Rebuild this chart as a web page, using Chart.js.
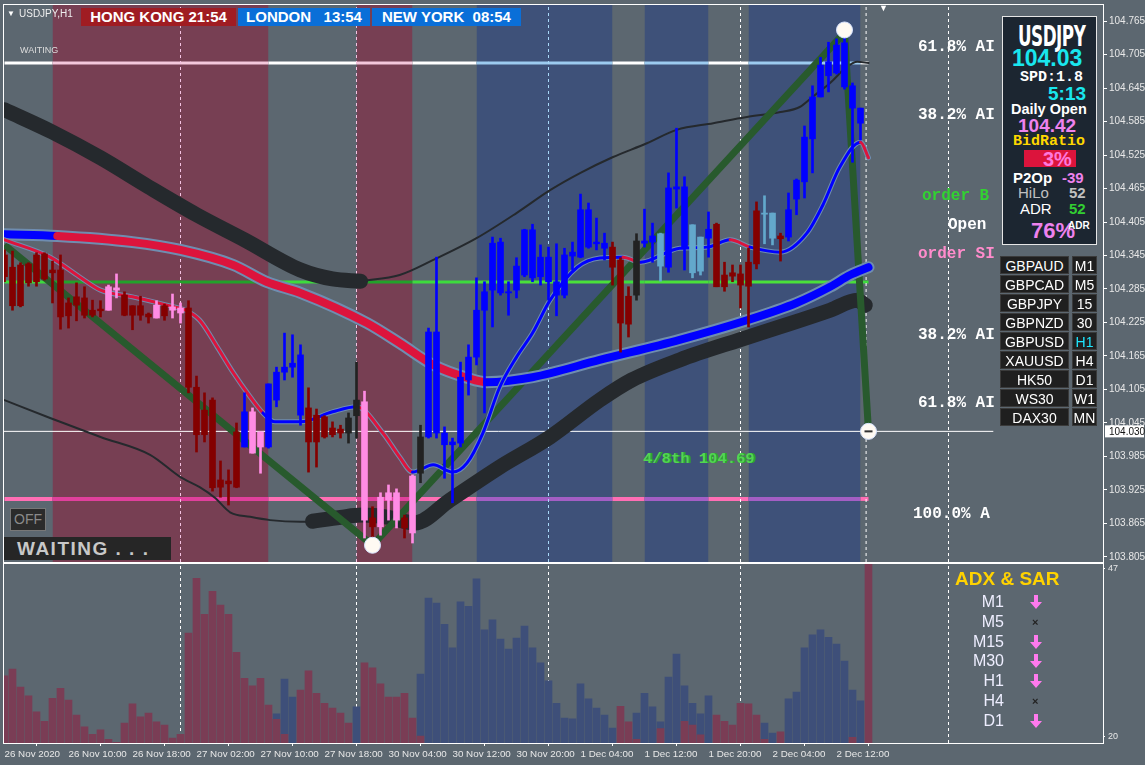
<!DOCTYPE html>
<html>
<head>
<meta charset="utf-8">
<script src="https://cdn.jsdelivr.net/npm/chart.js@4.4.1/dist/chart.umd.min.js"></script>
<style>
body{margin:0;background:#5c6770;}
#wrap{position:relative;width:1145px;height:765px;overflow:hidden;background:#5c6770;font-family:'Liberation Sans',Arial,sans-serif;}
#main{position:absolute;left:0;top:0;}
#sub{position:absolute;left:0;top:563px;}
.t{position:absolute;white-space:nowrap;line-height:1;transform:translateY(-50%);}
.mono{font-family:'Liberation Mono','DejaVu Sans Mono',monospace;font-weight:bold;}
.b{font-weight:bold;}
.box{position:absolute;height:18px;line-height:18px;color:#fff;font-weight:bold;font-size:15px;text-align:center;}
.cell{position:absolute;height:18px;line-height:18px;background:#1f1f1f;border:1px solid #3a3a3a;box-sizing:border-box;color:#fff;font-size:14px;text-align:center;}
</style>
</head>
<body>
<div id="wrap">
  <canvas id="main" width="1145" height="563"></canvas>
  <canvas id="sub" width="1145" height="202"></canvas>

  <div class="t" style="left:7px;top:14px;font-size:8px;color:#fff">▼</div>
  <div class="t" style="left:19px;top:14px;font-size:10px;color:#eee">USDJPY,H1</div>
  <div class="box" style="left:81px;top:8px;width:155px;background:#a01c22">HONG KONG&nbsp;21:54</div>
  <div class="box" style="left:238px;top:8px;width:132px;background:#0a6fd8">LONDON&nbsp;&nbsp;&nbsp;13:54</div>
  <div class="box" style="left:372px;top:8px;width:149px;background:#0a6fd8">NEW YORK&nbsp;&nbsp;08:54</div>
  <div class="t" style="left:20px;top:50px;font-size:9px;color:#ddd">WAITING</div>
  <div class="t" style="left:879px;top:8px;font-size:9px;color:#fff">▼</div>

  <div class="t mono" style="left:918px;top:47px;font-size:16px;color:#fff">61.8% AI</div>
  <div class="t mono" style="left:918px;top:115px;font-size:16px;color:#fff">38.2% AI</div>
  <div class="t mono" style="left:922px;top:196px;font-size:16px;color:#32d232">order B</div>
  <div class="t mono" style="left:948px;top:225px;font-size:16px;color:#fff">Open</div>
  <div class="t mono" style="left:918px;top:254px;font-size:16px;color:#ff8ccc">order SI</div>
  <div class="t mono" style="left:918px;top:335px;font-size:16px;color:#fff">38.2% AI</div>
  <div class="t mono" style="left:918px;top:403px;font-size:16px;color:#fff">61.8% AI</div>
  <div class="t mono" style="left:913px;top:514px;font-size:16px;color:#fff">100.0% A</div>
  <div class="t mono" style="left:643px;top:460px;font-size:15.5px;color:#52d652;text-shadow:2px 0 0 #2ea82e">4/8th 104.69</div>

  <div style="position:absolute;left:10px;top:508px;width:36px;height:23px;background:#2b2b2b;border:1px solid #777;box-sizing:border-box;color:#8a8a8a;font-size:14px;line-height:21px;text-align:center">OFF</div>
  <div style="position:absolute;left:4px;top:537px;width:167px;height:23px;background:#262626;color:#c8c8c8;font-weight:bold;font-size:19px;line-height:23px;letter-spacing:1.5px;padding-left:13px;box-sizing:border-box">WAITING . . .</div>

  <div style="position:absolute;left:1002px;top:16px;width:95px;height:229px;background:#1c2631;border:1px solid #e6e6e6;box-sizing:border-box"></div>
  <div class="t b" style="left:1018px;top:37px;font-size:19px;color:#fff;font-family:'DejaVu Sans Condensed','Liberation Sans',sans-serif;transform:translateY(-50%) scale(0.98,1.45);transform-origin:left center;letter-spacing:-0.5px">USDJPY</div>
  <div class="t b" style="left:1012px;top:58px;font-size:23px;color:#19e6ee">104.03</div>
  <div class="t mono" style="left:1020px;top:77px;font-size:15px;color:#fff">SPD:1.8</div>
  <div class="t b" style="left:1048px;top:93px;font-size:19px;color:#19e6ee">5:13</div>
  <div class="t b" style="left:1011px;top:109px;font-size:14.5px;color:#fff">Daily Open</div>
  <div class="t b" style="left:1018px;top:125px;font-size:19px;color:#ee82ee">104.42</div>
  <div class="t mono" style="left:1013px;top:141px;font-size:15px;color:#ffd700">BidRatio</div>
  <div style="position:absolute;left:1024px;top:150px;width:52px;height:17px;background:#dc143c"></div>
  <div class="t b" style="left:1043px;top:159px;font-size:20px;color:#ff77dd">3%</div>
  <div class="t b" style="left:1013px;top:177px;font-size:15px;color:#fff">P2Op</div>
  <div class="t b" style="left:1062px;top:177px;font-size:15px;color:#ee82ee">-39</div>
  <div class="t" style="left:1018px;top:192px;font-size:15px;color:#c0c0c0">HiLo</div>
  <div class="t b" style="left:1069px;top:192px;font-size:15px;color:#c0c0c0">52</div>
  <div class="t" style="left:1020px;top:208px;font-size:15px;color:#fff">ADR</div>
  <div class="t b" style="left:1069px;top:208px;font-size:15px;color:#32cd32">52</div>
  <div class="t b" style="left:1031px;top:231px;font-size:22px;color:#ee82ee">76%</div>
  <div class="t b" style="left:1068px;top:226px;font-size:10px;color:#fff">ADR</div>

  <div class="t b" style="left:955px;top:578px;font-size:19px;color:#ffd200">ADX &amp; SAR</div>
  <div id="adx"></div>
  <div id="syms"></div>
</div>

<script>
// price axis ticks and time labels
const priceTicks = [103.805, 103.865, 103.925, 103.985, 104.045, 104.105, 104.165, 104.225, 104.285,
  104.345, 104.405, 104.465, 104.525, 104.585, 104.645, 104.705, 104.765];
const timeTickIdx = [0, 8, 16, 24, 32, 40, 48, 56, 64, 72, 80, 88, 96, 104];
const timeLabels = ['26 Nov 2020', '26 Nov 10:00', '26 Nov 18:00', '27 Nov 02:00', '27 Nov 10:00',
  '27 Nov 18:00', '30 Nov 04:00', '30 Nov 12:00', '30 Nov 20:00', '1 Dec 04:00', '1 Dec 12:00',
  '1 Dec 20:00', '2 Dec 04:00', '2 Dec 12:00'];

// H1 candles (bar index 0..108)
const openP = [
  104.346, 104.324, 104.328, 104.330, 104.346, 104.348, 104.319, 104.319, 104.260, 104.271,
  104.269, 104.247, 104.249, 104.247, 104.283, 104.274, 104.255, 104.255, 104.240, 104.233,
  104.255, 104.247, 104.242, 104.251, 104.109, 104.068, 104.086, 103.943, 103.941, 104.029,
  104.002, 103.991, 104.002, 104.002, 104.086, 104.136, 104.145, 104.059, 104.072, 104.059,
  104.056, 104.036, 104.034, 104.027, 104.058, 103.871, 103.875, 103.859, 103.907, 103.871,
  103.875, 103.848, 103.955, 104.020, 104.027, 104.006, 104.006, 104.009, 104.122, 104.163,
  104.247, 104.283, 104.278, 104.278, 104.283, 104.310, 104.305, 104.307, 104.298, 104.274,
  104.274, 104.344, 104.342, 104.360, 104.366, 104.358, 104.360, 104.337, 104.272, 104.274,
  104.367, 104.369, 104.384, 104.324, 104.464, 104.358, 104.400, 104.378, 104.376, 104.401,
  104.310, 104.314, 104.312, 104.333, 104.425, 104.421, 104.421, 104.380, 104.378, 104.446,
  104.477, 104.554, 104.629, 104.667, 104.672, 104.647, 104.649, 104.609, 104.035];
const highP = [
  104.355, 104.353, 104.332, 104.332, 104.350, 104.350, 104.335, 104.346, 104.269, 104.296,
  104.289, 104.265, 104.264, 104.292, 104.312, 104.280, 104.255, 104.272, 104.242, 104.264,
  104.258, 104.276, 104.260, 104.264, 104.129, 104.099, 104.090, 103.977, 103.961, 104.045,
  104.099, 104.072, 104.029, 104.115, 104.145, 104.206, 104.203, 104.185, 104.108, 104.070,
  104.058, 104.047, 104.041, 104.063, 104.154, 104.102, 103.895, 103.920, 103.934, 103.927,
  103.880, 103.952, 104.041, 104.215, 104.342, 104.038, 104.018, 104.154, 104.185, 104.305,
  104.298, 104.378, 104.376, 104.298, 104.341, 104.392, 104.401, 104.364, 104.360, 104.366,
  104.358, 104.369, 104.455, 104.439, 104.412, 104.385, 104.369, 104.341, 104.289, 104.384,
  104.428, 104.403, 104.385, 104.493, 104.573, 104.486, 104.400, 104.378, 104.423, 104.403,
  104.333, 104.328, 104.328, 104.358, 104.441, 104.452, 104.421, 104.385, 104.457, 104.482,
  104.577, 104.649, 104.700, 104.727, 104.733, 104.744, 104.654, 104.609, 104.040];
const lowP = [
  104.298, 104.247, 104.253, 104.290, 104.290, 104.301, 104.260, 104.213, 104.215, 104.228,
  104.233, 104.235, 104.235, 104.247, 104.269, 104.237, 104.212, 104.229, 104.224, 104.233,
  104.229, 104.233, 104.224, 104.099, 103.993, 104.011, 103.923, 103.912, 103.898, 103.929,
  104.002, 103.991, 103.955, 104.000, 104.074, 104.122, 104.127, 104.041, 103.957, 103.966,
  104.018, 104.020, 104.018, 104.009, 104.018, 103.839, 103.823, 103.844, 103.871, 103.857,
  103.839, 103.830, 103.938, 104.018, 104.018, 103.946, 103.902, 104.002, 104.095, 104.149,
  104.063, 104.217, 104.274, 104.238, 104.269, 104.307, 104.298, 104.292, 104.265, 104.237,
  104.269, 104.319, 104.341, 104.358, 104.355, 104.337, 104.292, 104.172, 104.199, 104.265,
  104.360, 104.333, 104.299, 104.315, 104.430, 104.319, 104.305, 104.310, 104.342, 104.289,
  104.281, 104.298, 104.251, 104.217, 104.321, 104.366, 104.364, 104.335, 104.371, 104.418,
  104.448, 104.493, 104.629, 104.638, 104.670, 104.643, 104.512, 104.552, 104.025];
const closeP = [
  104.307, 104.255, 104.255, 104.296, 104.298, 104.303, 104.314, 104.235, 104.237, 104.256,
  104.238, 104.238, 104.246, 104.289, 104.287, 104.238, 104.238, 104.238, 104.235, 104.256,
  104.237, 104.253, 104.251, 104.109, 104.024, 104.024, 103.929, 103.930, 103.936, 103.930,
  104.065, 104.065, 104.029, 104.115, 104.136, 104.145, 104.152, 104.167, 104.011, 104.011,
  104.020, 104.024, 104.027, 104.054, 104.086, 104.083, 103.859, 103.912, 103.920, 103.920,
  103.857, 103.950, 104.020, 104.208, 104.208, 104.027, 104.011, 104.127, 104.163, 104.247,
  104.280, 104.367, 104.369, 104.280, 104.326, 104.391, 104.391, 104.342, 104.342, 104.298,
  104.346, 104.351, 104.427, 104.427, 104.369, 104.367, 104.324, 104.224, 104.222, 104.371,
  104.371, 104.380, 104.326, 104.466, 104.468, 104.468, 104.314, 104.317, 104.392, 104.289,
  104.289, 104.308, 104.292, 104.290, 104.330, 104.419, 104.376, 104.375, 104.427, 104.480,
  104.557, 104.629, 104.686, 104.692, 104.722, 104.726, 104.609, 104.582, 104.030];
// candle colouring state: R bear-down, B bull-up, P pink, L light blue, K neutral
const tone = ('RRRRRRRRRRRRRPPRRRRPRPPRRRRRRRBPPBBBBBRRRRRKKPRPPPRPK' +
  'BBBBBBBBBBBBBBBBBBBBBBBRRRKBBLBBBLLBRRRRRRLLRBBBBBBBBBBR').split('');

// session shading (bar index ranges)
const bands = [
  {s: 6, e: 33, k: 'm'}, {s: 44, e: 51, k: 'm'},
  {s: 59, e: 76, k: 'n'}, {s: 80, e: 88, k: 'n'}, {s: 93, e: 107, k: 'n'}];

// levels
const levelTop = 104.690, levelMid = 104.2975, levelLow = 103.909, lastPrice = 104.030;
const daySeps = [22, 44, 68, 92];
const markSeps = [107.7, 118];

// indicator lines as [bar, price]
const chanUpperThick = [[0, 104.606], [6, 104.566], [12, 104.520], [18, 104.468], [24, 104.418],
  [30, 104.373], [37, 104.319], [41, 104.303], [44.5, 104.299]];
const chanUpperThin = [[44.5, 104.299], [49.4, 104.310], [53.6, 104.337], [59, 104.376], [64, 104.421],
  [68.2, 104.462], [72, 104.493], [76, 104.521], [80.3, 104.546], [84, 104.570], [88.6, 104.582],
  [92.8, 104.593], [97, 104.602], [99.4, 104.611], [101, 104.629], [103.2, 104.654], [105.3, 104.683],
  [106.6, 104.692], [108, 104.690]];
const chanLowerThin = [[0, 104.086], [5.7, 104.054], [12, 104.020], [18.2, 103.988], [22, 103.948],
  [24.4, 103.930], [26.3, 103.911], [28.2, 103.885], [30.7, 103.877], [33.2, 103.871], [37, 103.868],
  [39, 103.869]];
const chanLowerThick = [[38.5, 103.869], [42, 103.876], [44.7, 103.880], [48, 103.876], [51.3, 103.866],
  [55.7, 103.907], [61.9, 103.966], [68.2, 104.020], [74.4, 104.086], [78.4, 104.122], [84.4, 104.158],
  [91.9, 104.194], [96.9, 104.217], [103.2, 104.247], [106.6, 104.265], [107.6, 104.256]];
const midMA = [[0, 104.383], [6.6, 104.380], [16, 104.369], [22, 104.355], [28.6, 104.328],
  [32.8, 104.2975], [37, 104.278], [45.3, 104.224], [49.4, 104.188], [53.6, 104.149], [57.8, 104.126],
  [60.3, 104.118], [66, 104.127], [74.4, 104.158], [84.4, 104.194], [92.8, 104.229], [99, 104.260],
  [103.2, 104.289], [105.7, 104.310], [108, 104.324]];
const midRed = [[6.6, 60.3]];
const fastMA = [[0, 104.373], [5.7, 104.342], [9.4, 104.3065], [12, 104.283], [16, 104.271],
  [20.3, 104.256], [22.6, 104.247], [24.4, 104.229], [26.6, 104.181], [28.6, 104.135], [30.7, 104.092],
  [32.3, 104.063], [33.8, 104.047], [37, 104.047], [41, 104.065], [44, 104.074], [47.3, 104.027],
  [49.4, 103.984], [51, 103.957], [53.6, 103.970], [56, 103.957], [57.8, 103.973], [59.8, 104.027],
  [61.9, 104.109], [64, 104.163], [66, 104.206], [68.2, 104.265], [71.6, 104.324], [74.4, 104.3405],
  [77.3, 104.342], [79.5, 104.333], [84.4, 104.358], [87.8, 104.360], [90.7, 104.373], [93.2, 104.360],
  [97, 104.351], [100.3, 104.385], [102.3, 104.4355], [104.4, 104.503], [107, 104.548], [108, 104.520]];
const fastRed = [[0, 32.5], [44, 51], [76, 80], [89.5, 94], [107, 108]];
const zigzag = [[0, 104.364], [46, 103.826], [105, 104.744], [108, 104.030]];
const pivots = [[46, 103.826], [105, 104.749], [108, 104.030]];

// lower window histogram (null = no bar)
const histDown = [
  29.8, 30.9, 28.0, 26.6, 24.0, 22.5, 26.2, 27.8, 25.9, 23.5,
  21.6, 20.4, 21.1, 19.6, 19.1, 22.2, 25.3, 23.2, 23.8, 22.4,
  21.9, 19.8, 20.4, 36.7, 45.5, 39.7, 43.4, 41.2, 39.7, 33.6,
  29.4, 28.2, 29.4, 25.1, 22.8, 20.4, null, 27.5, 30.6, 27.0,
  25.4, 24.6, 23.8, 22.2, null, 31.9, 31.1, 28.5, 26.4, 26.4,
  27.0, 23.0, 20.1, null, null, null, null, null, null, null,
  null, null, null, null, null, null, null, null, null, null,
  null, null, null, null, null, null, null, 24.9, 22.4, 19.6,
  null, null, 21.3, null, null, 22.5, 21.9, 20.3, null, 23.5,
  22.5, 21.9, 25.4, 25.3, 23.5, 19.6, null, 20.8, null, null,
  null, null, null, null, null, null, 19.9, null, 47.9];
const histUp = [
  null, null, null, null, null, null, null, null, null, null,
  null, null, null, null, null, null, null, null, null, null,
  null, null, null, null, null, null, null, null, null, null,
  null, null, null, null, 23.7, 29.3, 26.4, null, null, null,
  null, null, null, null, 24.8, null, null, null, null, null,
  null, null, 30.1, 42.3, 41.5, 38.1, 34.3, 41.7, 41.0, 45.4,
  37.2, 38.8, 35.7, 34.1, 35.9, 37.8, 34.3, 31.9, 29.0, 25.4,
  23.0, 22.9, 28.5, 26.1, 24.6, 23.5, 21.4, null, null, 23.8,
  27.0, 24.8, 22.4, 29.6, 33.3, 28.2, 25.4, 23.7, 26.6, null,
  null, null, null, null, null, 22.2, 20.6, null, 26.1, 27.2,
  34.3, 36.4, 37.2, 36.0, 34.9, 32.2, 27.5, 25.8, null];
const histTicks = [20, 47];

// side panels
const symbols = ['GBPAUD', 'GBPCAD', 'GBPJPY', 'GBPNZD', 'GBPUSD', 'XAUUSD', 'HK50', 'WS30', 'DAX30'];
const periods = ['M1', 'M5', '15', '30', 'H1', 'H4', 'D1', 'W1', 'MN'];
const adxTf = ['M1', 'M5', 'M15', 'M30', 'H1', 'H4', 'D1'];
const adxSig = ['d', 'x', 'd', 'd', 'd', 'x', 'd'];

// ---- styling ----
const toneColor = {R: '#840000', B: '#0000ff', P: '#ff8ce4', L: '#63a8cc', K: '#222222'};
const bandFill = {m: '#773f53', n: '#3e5179'};
const topCols = {g: '#ffffff', m: '#f4c8dc', n: '#9ccbf0'};
const midCols = {g: '#3ddc3d', m: '#22a22a', n: '#4ae03a'};
const lowCols = {g: '#ff6eb4', m: '#e0409c', n: '#a35ec4'};
const sepCols = {g: '#ffffff', m: '#f4c2e2', n: '#a8d8f8'};
const RED = '#dc143c', BLUE = '#0000ff', OUTLINE = '#6f8db0';

const X_MIN = -0.0625, X_MAX = X_MIN + 1099 / 8;
const Y_MIN = 103.796, Y_MAX = 104.7937;

Chart.defaults.font.family = "'Liberation Sans', Arial, sans-serif";
Chart.defaults.font.size = 10;
Chart.defaults.color = '#e8e8e8';

const xy = a => a.map(([x, y]) => ({x, y}));
const inRanges = (x, rs) => rs.some(([a, b]) => x >= a && x <= b);
const bandOf = x => { const b = bands.find(b => x >= b.s && x <= b.e); return b ? b.k : 'g'; };
const cuts = [0, ...bands.flatMap(b => [b.s, b.e]), 108];
const mid = c => (c.p0.parsed.x + c.p1.parsed.x) / 2;
const noPad = s => { s.paddingTop = 0; s.paddingBottom = 0; s.paddingLeft = 0; s.paddingRight = 0; };

function levelLine(price, cols, w) {
  return {type: 'line', data: cuts.map(x => ({x, y: price})), borderWidth: w, pointRadius: 0, order: 90,
    borderColor: cols.g, segment: {borderColor: c => cols[bandOf(mid(c))]}};
}
function vLine(x, col, y0, y1, order) {
  return {type: 'line', data: [{x, y: y0}, {x, y: y1}], borderColor: col, borderWidth: 1,
    borderDash: [3, 3], pointRadius: 0, order};
}
function curve(points, color, width, order, extra) {
  return Object.assign({type: 'line', data: xy(points), borderColor: color, borderWidth: width,
    pointRadius: 0, cubicInterpolationMode: 'monotone', borderCapStyle: 'round',
    borderJoinStyle: 'round', order}, extra || {});
}

const idx = openP.map((_, i) => i);
const wicks = idx.map(i => ({x: i, y: [lowP[i], highP[i]]}));
const bodies = idx.map(i => ({x: i, y: [Math.min(openP[i], closeP[i]), Math.max(openP[i], closeP[i])]}));

const frame = {
  id: 'frame',
  afterDraw(chart) {
    const a = chart.chartArea, ctx = chart.ctx;
    ctx.save();
    ctx.strokeStyle = '#ffffff';
    ctx.lineWidth = 1;
    ctx.strokeRect(a.left - 0.5, a.top - 0.5, a.right - a.left + 1, a.bottom - a.top + 1);
    ctx.restore();
  }
};
const priceTag = {
  id: 'priceTag',
  afterDraw(chart) {
    const y = chart.scales.y.getPixelForValue(lastPrice), ctx = chart.ctx, r = chart.chartArea.right;
    ctx.save();
    ctx.fillStyle = '#ffffff';
    ctx.fillRect(r + 2, y - 6, 39, 12);
    ctx.fillStyle = '#111';
    ctx.font = "10px 'Liberation Sans', Arial";
    ctx.textBaseline = 'middle';
    ctx.fillText(lastPrice.toFixed(3), r + 6, y + 0.5);
    ctx.restore();
  }
};

const mainSets = [];
bands.forEach(b => mainSets.push({type: 'line', data: [{x: b.s, y: Y_MAX}, {x: b.e, y: Y_MAX}],
  fill: 'start', backgroundColor: bandFill[b.k], borderColor: 'rgba(0,0,0,0)', borderWidth: 0,
  pointRadius: 0, order: 100}));
mainSets.push(levelLine(levelTop, topCols, 3));
mainSets.push(levelLine(levelMid, midCols, 3));
mainSets.push(levelLine(levelLow, lowCols, 4));
mainSets.push({type: 'line', data: [{x: X_MIN, y: lastPrice}, {x: 123.6, y: lastPrice}],
  borderColor: '#ffffff', borderWidth: 1, pointRadius: 0, order: 88});
daySeps.concat(markSeps).forEach(x => mainSets.push(vLine(x, sepCols[bandOf(x)], Y_MIN, Y_MAX, 85)));
mainSets.push(curve(chanUpperThin, '#25292d', 2, 81));
mainSets.push(curve(chanLowerThin, '#25292d', 2, 81));
mainSets.push(curve(chanUpperThick, '#25292d', 15, 80));
mainSets.push(curve(chanLowerThick, '#25292d', 15, 80));
mainSets.push({type: 'line', data: xy(zigzag), borderColor: '#285a2d', borderWidth: 7, pointRadius: 0, order: 70});
mainSets.push(curve(midMA, OUTLINE, 12, 62));
mainSets.push(curve(midMA, BLUE, 8, 61, {segment: {borderColor: c => inRanges(mid(c), midRed) ? RED : BLUE}}));
mainSets.push(curve(fastMA, OUTLINE, 5, 58));
mainSets.push(curve(fastMA, BLUE, 3, 57, {segment: {borderColor: c => inRanges(mid(c), fastRed) ? RED : BLUE}}));
mainSets.push({type: 'bar', data: wicks, barThickness: 2, grouped: false, order: 50,
  backgroundColor: c => toneColor[tone[c.dataIndex]]});
mainSets.push({type: 'bar', data: bodies, barThickness: 6, grouped: false, minBarLength: 1, order: 49,
  backgroundColor: c => toneColor[tone[c.dataIndex]]});
mainSets.push({type: 'line', data: xy(pivots), showLine: false, pointRadius: 8,
  pointBackgroundColor: '#fffaf3', pointBorderColor: '#d6e2ff', pointBorderWidth: 1, order: 10});
mainSets.push({type: 'line', data: [{x: 108, y: lastPrice}], showLine: false, pointStyle: 'line',
  pointRadius: 4, pointBorderColor: '#333', pointBorderWidth: 2, order: 9});

new Chart(document.getElementById('main'), {
  type: 'bar',
  data: {datasets: mainSets},
  options: {
    responsive: false, animation: false, events: [],
    layout: {autoPadding: false, padding: {left: 4, top: 5, right: 0, bottom: 1}},
    plugins: {legend: {display: false}, tooltip: {enabled: false}},
    scales: {
      x: {type: 'linear', min: X_MIN, max: X_MAX, offset: false, display: false},
      y: {
        type: 'linear', position: 'right', min: Y_MIN, max: Y_MAX,
        afterFit: s => { s.width = 42; noPad(s); },
        afterBuildTicks: s => { s.ticks = priceTicks.map(v => ({value: v})); },
        ticks: {autoSkip: false, padding: 2, color: '#e8e8e8', callback: v => v.toFixed(3)},
        grid: {drawOnChartArea: false, drawTicks: true, tickLength: 4, color: '#ffffff'},
        border: {color: '#ffffff'}
      }
    }
  },
  plugins: [frame, priceTag]
});

const subSets = [];
daySeps.concat([118]).forEach(x => subSets.push(vLine(x, '#ffffff', 19, 47.8, 20)));
subSets.push({type: 'bar', data: idx.filter(i => histUp[i] !== null).map(i => ({x: i, y: histUp[i]})),
  backgroundColor: '#3e4f79', barThickness: 7, grouped: false, order: 2});
subSets.push({type: 'bar', data: idx.filter(i => histDown[i] !== null).map(i => ({x: i, y: histDown[i]})),
  backgroundColor: '#7a3d55', barThickness: 7, grouped: false, order: 1});

new Chart(document.getElementById('sub'), {
  type: 'bar',
  data: {datasets: subSets},
  options: {
    responsive: false, animation: false, events: [],
    layout: {autoPadding: false, padding: {left: 4, top: 1, right: 0, bottom: 0}},
    plugins: {legend: {display: false}, tooltip: {enabled: false}},
    scales: {
      x: {
        type: 'linear', min: X_MIN, max: X_MAX, offset: false,
        afterFit: s => { s.height = 22; noPad(s); },
        afterBuildTicks: s => { s.ticks = timeTickIdx.map(v => ({value: v})); },
        ticks: {autoSkip: false, maxRotation: 0, minRotation: 0, align: 'start', padding: 2,
          color: '#e8e8e8', font: {size: 9.8}, callback: (v, i) => timeLabels[i]},
        grid: {drawOnChartArea: false, drawTicks: true, tickLength: 3, color: '#ffffff'},
        border: {color: '#ffffff'}
      },
      y: {
        type: 'linear', position: 'right', min: 19, max: 47.8,
        afterFit: s => { s.width = 42; noPad(s); },
        afterBuildTicks: s => { s.ticks = histTicks.map(v => ({value: v})); },
        ticks: {autoSkip: false, padding: 3, color: '#e8e8e8', font: {size: 9}},
        grid: {drawOnChartArea: false, drawTicks: true, tickLength: 2, color: '#ffffff'},
        border: {color: '#ffffff'}
      }
    }
  },
  plugins: [frame]
});

// symbol buttons and ADX list
const symsEl = document.getElementById('syms');
symbols.forEach((s, i) => {
  const top = 256 + i * 19;
  symsEl.insertAdjacentHTML('beforeend',
    `<div class="cell" style="left:1000px;top:${top}px;width:69px">${s}</div>` +
    `<div class="cell" style="left:1072px;top:${top}px;width:25px;color:${periods[i] === 'H1' ? '#1ee6ff' : '#fff'}">${periods[i]}</div>`);
});
const adxEl = document.getElementById('adx');
const arrow = '<svg width="12" height="14" viewBox="0 0 12 14"><path d="M4 0h4v7h4l-6 7-6-7h4z" fill="#ff7aee"/></svg>';
adxTf.forEach((tf, i) => {
  const y = 602 + i * 19.8;
  adxEl.insertAdjacentHTML('beforeend',
    `<div class="t" style="left:944px;width:60px;text-align:right;top:${y}px;font-size:16px;color:#eef">${tf}</div>` +
    (adxSig[i] === 'd'
      ? `<div class="t" style="left:1030px;top:${y}px;height:14px">${arrow}</div>`
      : `<div class="t b" style="left:1032px;top:${y}px;font-size:11px;color:#222">×</div>`));
});
</script>
</body>
</html>
